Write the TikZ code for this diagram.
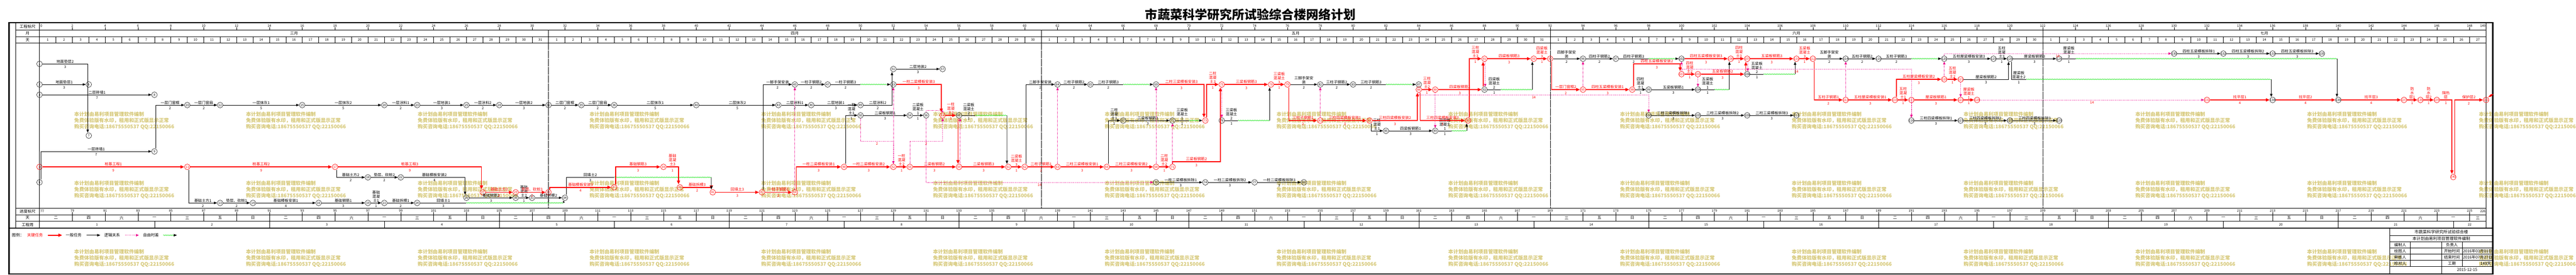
\documentclass[tikz,border=0pt]{standalone}
\usepackage{fontspec}
\setmainfont{Noto Sans CJK SC}
\usetikzlibrary{arrows.meta,decorations.pathmorphing}
\definecolor{wmc}{RGB}{214,200,120}
\definecolor{slackgreen}{RGB}{0,225,0}
\tikzset{
  ev/.style={circle,draw,black,line width=0.8pt,minimum size=16.5pt,inner sep=0pt,font=\fontsize{9}{9}\selectfont},
  evk/.style={ev,red,line width=1pt},
  task/.style={black,line width=0.9pt,-{Triangle[length=9pt,width=7pt]}},
  crit/.style={red,line width=2.6pt,-{Triangle[length=11pt,width=9pt]}},
  dummy/.style={magenta,line width=0.9pt,dash pattern=on 1.6pt off 2.4pt,-{Triangle[length=8pt,width=7pt]}},
  slack/.style={slackgreen,line width=0.8pt,decorate,decoration={snake,amplitude=1.2pt,segment length=5pt}},
  slacka/.style={slack,decoration={snake,amplitude=1.2pt,segment length=5pt,post length=9pt},-{Triangle[length=9pt,width=7pt,color=black]}},
  lbl/.style={above=1.5pt,inner sep=0pt,align=center,font=\fontsize{11}{12}\selectfont},
  dur/.style={below=5pt,inner sep=0pt,font=\fontsize{10}{10}\selectfont},
  lag/.style={below=3pt,inner sep=0pt,red,font=\fontsize{10}{10}\selectfont},
  hd/.style={inner sep=0pt,font=\fontsize{11.5}{12}\selectfont},
  num/.style={inner sep=0pt,font=\fontsize{9.5}{10}\selectfont},
  tb/.style={inner sep=0pt,font=\fontsize{11.5}{12}\selectfont},
  wm/.style={anchor=north west,inner sep=0pt,align=left,text=wmc,font=\fontsize{14.5}{18}\selectfont\bfseries}
}
\begin{document}
\begin{tikzpicture}[x=47.8pt,y=-1pt]
\useasboundingbox (-2.4059,0) rectangle (154.477,800);

% watermark
\foreach \k in {0,...,14}
  \foreach \y in {326,526,726}
    \node[wm] at ({2.113+10.4603*\k},\y) {本计划由易利项目管理软件编制\\免费体验版有水印，租用和正式版显示正常\\购买咨询电话:18675550537 QQ:22150066};

\node[font=\fontsize{36}{36}\selectfont\bfseries] (title) at (73.745,43) {市蔬菜科学研究所试验综合楼网络计划};

% frame and rows
\draw[line width=4pt] (-1.862,66) rectangle (149.414,798);
\draw[line width=3pt] (-1.862,665) -- (149.414,665);
\foreach \y in {87.8,107,125.5,606,625.5,644}
  \draw[line width=0.8pt] (-1.454,\y) -- (149,\y);
\foreach \x in {-1.454,0,149}
  \draw[line width=0.8pt] (\x,66) -- (\x,665);
\node[hd] at (-0.727,77) {工程标尺};
\node[hd] at (-0.727,97.4) {月};
\node[hd] at (-0.727,116.25) {天};
\node[hd] at (-0.727,615.75) {进度标尺};
\node[hd] at (-0.727,634.75) {天};
\node[hd] at (-0.727,654.5) {工程周};

% scales
\node[num,anchor=west] at (0.05,76) {0};
\node[num,anchor=west] at (0.05,615) {77};
\node[num,anchor=east] at (148.98,76) {149};
\node[num,anchor=east] at (148.98,615) {226};
\foreach \d in {2,4,...,148}{
  \pgfmathtruncatemacro{\p}{77+\d}
  \draw[line width=0.7pt] (\d,80) -- (\d,87.8);
  \draw[line width=0.7pt] (\d,618) -- (\d,625.5);
  \node[num] at (\d,76) {\d};
  \node[num] at (\d,614) {\p};
}
\foreach \d in {1,...,148}
  \draw[line width=0.7pt] (\d,107) -- (\d,125.5);
\foreach \s/\n in {0/31,31/30,61/31,92/30,122/27}
  \foreach \i in {1,...,\n}
    \node[num] at (\s+\i-0.5,116.25) {\i};
\foreach \d/\m in {15.5/三月,46/四月,76.5/五月,107/六月,135.5/七月}
  \node[hd] at (\d,97.4) {\m};
\foreach \d in {31,61,92,122}{
  \draw[line width=0.7pt] (\d,87.8) -- (\d,107);
  \draw[line width=0.6pt,densely dotted] (\d,125.5) -- (\d,606);
}
\foreach \d in {2,4,...,148}
  \draw[line width=0.7pt] (\d,625.5) -- (\d,644);
\foreach \w [count=\j from 0] in {二,四,六,一,三,五,日}
  \foreach \c in {0,...,10}{
    \pgfmathtruncatemacro{\k}{14*\c+2*\j}
    \ifnum\k<149
      \pgfmathsetmacro{\xc}{min(\k+1,148.5)}
      \node[hd] at (\xc,634.75) {\w};
    \fi
  }
\foreach \n in {1,...,21}{
  \draw[line width=0.7pt] (7*\n,644) -- (7*\n,665);
  \node[num] at (7*\n-3.5,654.5) {\n};
}
\node[num] at (148,654.5) {22};

% legend
\coordinate (la1) at (0.502,685);
\coordinate (la2) at (1.381,685);
\coordinate (la3) at (2.866,685);
\coordinate (la4) at (3.703,685);
\coordinate (la5) at (5.209,685);
\coordinate (la6) at (6.046,685);
\coordinate (la7) at (7.531,685);
\coordinate (la8) at (8.368,685);
\node[hd] at (-1.318,685) {图例：};
\node[hd,red] at (-0.272,685) {关键任务};
\draw[crit] (la1) -- (la2);
\node[hd] at (2.082,685) {一般任务};
\draw[task] (la3) -- (la4);
\node[hd] at (4.425,685) {逻辑关系};
\draw[dummy] (la5) -- (la6);
\node[hd] at (6.789,685) {自由时差};
\draw[slacka] (la7) -- (la8);

% title block
\draw[line width=0.8pt] (143.138,666.3) -- (143.138,798);
\foreach \y in {686.1,703.9,721.9,740,758.1,776.2}
  \draw[line width=0.8pt] (143.138,\y) -- (149.414,\y);
\draw[line width=0.8pt] (144.393,703.9) -- (144.393,776.2);
\draw[line width=0.8pt] (146.284,703.9) -- (146.284,798);
\draw[line width=0.8pt] (147.552,703.9) -- (147.552,776.2);
\node[tb,font=\fontsize{12}{12}\selectfont] at (146.276,676.2) {市蔬菜科学研究所试验综合楼};
\node[tb,font=\fontsize{12}{12}\selectfont] at (146.276,695) {本计划由易利项目管理软件编制};
\node[tb] at (143.766,713) {编制人};
\node[tb] at (146.918,713) {负责人};
\node[tb] at (143.766,731) {绘图人};
\node[tb] at (146.918,731) {开始时间};
\node[tb] at (148.483,731) {2016年03月01日};
\node[tb] at (143.766,749) {审核人};
\node[tb] at (146.918,749) {结束时间};
\node[tb] at (148.483,749) {2016年07月27日};
\node[tb] at (143.766,767) {校对人};
\node[tb] at (146.918,767) {工期};
\node[tb,anchor=east] at (149.3,767) {149天};
\node[tb] at (147.849,786) {2015-12-15};

% events
\node[ev] (n1) at (0,186) {1};
\node[ev] (n2) at (0,246) {2};
\node[ev] (n3) at (0,276) {3};
\node[evk] (n4) at (0,486) {4};
\node[ev] (n5) at (0,531) {5};
\node[ev] (n6) at (3,246) {6};
\node[ev] (n7) at (3,395) {7};
\node[ev] (n8) at (7,276) {8};
\node[ev] (n9) at (7,441) {9};
\node[ev] (n10) at (9,306) {10};
\node[evk] (n11) at (9,486) {11};
\node[ev] (n12) at (11,306) {12};
\node[ev] (n13) at (11,591) {13};
\node[ev] (n14) at (13,591) {14};
\node[ev] (n15) at (16,306) {15};
\node[ev] (n16) at (17,591) {16};
\node[evk] (n17) at (18,486) {17};
\node[ev] (n18) at (20,516.5) {18};
\node[ev] (n19) at (20,591) {19};
\node[ev] (n20) at (21,306) {20};
\node[ev] (n21) at (21,591) {21};
\node[ev] (n22) at (22,516.5) {22};
\node[ev] (n23) at (23,306) {23};
\node[ev] (n24) at (23,591) {24};
\node[ev] (n25) at (26,306) {25};
\node[ev] (n26) at (26,576) {26};
\node[evk] (n27) at (27,560) {27};
\node[ev] (n28) at (28,306) {28};
\node[evk] (n29) at (29,560) {29};
\node[ev] (n30) at (29,576) {30};
\node[ev] (n31) at (30,576) {31};
\node[ev] (n32) at (31,306) {32};
\node[evk] (n33) at (31,560) {33};
\node[ev] (n34) at (32,576) {34};
\node[ev] (n35) at (33,306) {35};
\node[ev] (n36) at (35,306) {36};
\node[evk] (n37) at (35,545.5) {37};
\node[evk] (n38) at (38,486) {38};
\node[evk] (n39) at (39,545.5) {39};
\node[ev] (n40) at (40,306) {40};
\node[evk] (n41) at (41,560) {41};
\node[evk] (n42) at (44,560) {42};
\node[ev] (n43) at (45,306) {43};
\node[evk] (n44) at (46,560) {44};
\node[ev] (n45) at (46,246) {45};
\node[ev] (n46) at (47,306) {46};
\node[ev] (n47) at (48,246) {47};
\node[evk] (n48) at (49,486) {48};
\node[ev] (n49) at (50,306) {49};
\node[ev] (n50) at (50,336) {50};
\node[ev] (n51) at (52,201) {51};
\node[evk] (n52) at (52,486) {52};
\node[ev] (n53) at (52,246) {53};
\node[ev] (n54) at (53,336) {54};
\node[evk] (n55) at (53,486) {55};
\node[ev] (n56) at (54,336) {56};
\node[ev] (n57) at (55,201) {57};
\node[evk] (n58) at (55,336) {58};
\node[evk] (n59) at (56,486) {59};
\node[ev] (n60) at (56,336) {60};
\node[evk] (n61) at (59,486) {61};
\node[evk] (n62) at (60,486) {62};
\node[evk] (n63) at (62,486) {63};
\node[ev] (n64) at (62,246) {64};
\node[ev] (n65) at (64,246) {65};
\node[evk] (n66) at (65,486) {66};
\node[ev] (n67) at (66,351) {67};
\node[evk] (n68) at (68,486) {68};
\node[ev] (n69) at (68,246) {69};
\node[ev] (n70) at (68,531) {70};
\node[evk] (n71) at (69,486) {71};
\node[ev] (n72) at (69,351) {72};
\node[evk] (n73) at (71,351) {73};
\node[ev] (n74) at (71,531) {74};
\node[evk] (n75) at (72,246) {75};
\node[ev] (n76) at (72,351) {76};
\node[ev] (n77) at (74,531) {77};
\node[evk] (n78) at (75,246) {78};
\node[evk] (n79) at (76,246) {79};
\node[ev] (n80) at (77,531) {80};
\node[evk] (n81) at (78,351) {81};
\node[ev] (n82) at (78,246) {82};
\node[ev] (n83) at (80,246) {83};
\node[evk] (n84) at (81,351) {84};
\node[ev] (n85) at (82,381) {85};
\node[ev] (n87) at (84,246) {87};
\node[evk] (n86) at (84,261) {86};
\node[evk] (n88) at (85,261) {88};
\node[ev] (n89) at (85,381) {89};
\node[evk] (n90) at (87,351) {90};
\node[evk] (n91) at (88,171) {91};
\node[ev] (n92) at (88,261) {92};
\node[evk] (n93) at (91,171) {93};
\node[evk] (n94) at (92,171) {94};
\node[evk] (n95) at (94,261) {95};
\node[ev] (n96) at (94,171) {96};
\node[ev] (n97) at (96,171) {97};
\node[evk] (n98) at (97,261) {98};
\node[ev] (n99) at (98,261) {99};
\node[ev] (n100) at (98,336) {100};
\node[evk] (n101) at (100,216) {101};
\node[ev] (n102) at (100,171) {102};
\node[evk] (n103) at (101,216) {103};
\node[ev] (n104) at (101,261) {104};
\node[ev] (n105) at (101,336) {105};
\node[evk] (n106) at (103,171) {106};
\node[evk] (n107) at (104,171) {107};
\node[ev] (n108) at (104,216) {108};
\node[ev] (n109) at (104,336) {109};
\node[evk] (n110) at (107,171) {110};
\node[ev] (n111) at (107,336) {111};
\node[evk] (n112) at (108,171) {112};
\node[evk] (n113) at (110,291) {113};
\node[ev] (n114) at (110,171) {114};
\node[ev] (n115) at (112,171) {115};
\node[evk] (n116) at (113,291) {116};
\node[evk] (n117) at (114,291) {117};
\node[ev] (n118) at (114,351) {118};
\node[evk] (n119) at (116,231) {119};
\node[ev] (n120) at (116,171) {120};
\node[evk] (n121) at (117,231) {121};
\node[evk] (n122) at (117,291) {122};
\node[ev] (n123) at (117,351) {123};
\node[evk] (n124) at (118,291) {124};
\node[ev] (n125) at (119,171) {125};
\node[ev] (n126) at (120,171) {126};
\node[ev] (n127) at (120,351) {127};
\node[ev] (n128) at (123,171) {128};
\node[ev] (n129) at (123,351) {129};
\node[ev] (n130) at (130,156) {130};
\node[evk] (n131) at (132,291) {131};
\node[ev] (n132) at (133,156) {132};
\node[ev] (n133) at (136,156) {133};
\node[ev] (n134) at (136,291) {134};
\node[ev] (n135) at (139,156) {135};
\node[ev] (n136) at (140,291) {136};
\node[evk] (n137) at (144,291) {137};
\node[evk] (n138) at (145,291) {138};
\node[evk] (n139) at (146,291) {139};
\node[evk] (n140) at (147,515.6) {140};
\node[evk] (n141) at (149,291) {141};
\fill[red] (149.126,283) -- (149.272,275) -- (149.46,274) -- (149.314,281) -- cycle;

% free-float points
\coordinate (k71) at (71.916,471);
\coordinate (k98) at (99.916,186);
\coordinate (f24) at (26,591);
\coordinate (g24) at (31.92,591);
\coordinate (f34) at (35,516.5);
\coordinate (g34) at (40.916,516.5);
\coordinate (f47) at (50,246);
\coordinate (f60) at (57,336);
\coordinate (g60) at (58.916,336);
\coordinate (f65) at (66,246);
\coordinate (f72) at (70,351);
\coordinate (f76) at (73,351);
\coordinate (g76) at (74.916,351);
\coordinate (f83) at (82,246);
\coordinate (f89) at (86,381);
\coordinate (g89) at (86.916,381);
\coordinate (f92) at (89,261);
\coordinate (g92) at (90.916,261);
\coordinate (f97) at (98,171);
\coordinate (f104) at (102,261);
\coordinate (g104) at (102.916,261);
\coordinate (f108) at (105,216);
\coordinate (g108) at (106.916,216);
\coordinate (f115) at (114,171);
\coordinate (f126) at (121,231);
\coordinate (g126) at (135.916,231);
\coordinate (f128) at (124,171);
\coordinate (g128) at (139.916,171);
\coordinate (c50) at (52,411.6);
\coordinate (c55) at (55,411.6);
\coordinate (c56) at (55,321);
\coordinate (c86) at (98,276);
\coordinate (c101) at (114,201);

% general tasks
\draw (n2) edge[task] node[lbl]{地面垫层1} node[dur]{3} (n6);
\draw (n3) edge[task] node[lbl]{二层砖墙1} node[dur]{7} (n8);
\draw[task] (n1) -| node[lbl,pos=.25]{地面垫层2} node[dur,pos=.25]{3} ([xshift=-3pt]n7.north);
\draw[task] ([xshift=4.5pt]n5.north) |- node[lbl,pos=.75]{一层砖墙1} node[dur,pos=.75]{7} (n9);
\draw[task] ([xshift=4pt]n9.north) |- node[lbl,pos=.75]{一层门窗框} node[dur,pos=.75]{2} (n10);
\draw (n10) edge[task] node[lbl]{一层门窗扇} node[dur]{2} (n12);
\draw (n12) edge[task] node[lbl]{一层抹灰1} node[dur]{5} (n15);
\draw (n15) edge[task] node[lbl]{一层抹灰2} node[dur]{5} (n20);
\draw (n20) edge[task] node[lbl]{一层涂料1} node[dur]{2} (n23);
\draw (n23) edge[task] node[lbl]{一层地装1} node[dur]{3} (n25);
\draw (n25) edge[task] node[lbl]{一层涂料2} node[dur]{2} (n28);
\draw (n28) edge[task] node[lbl]{一层地装2} node[dur]{3} (n32);
\draw (n32) edge[task] node[lbl]{二层门窗框} node[dur]{2} (n35);
\draw (n35) edge[task] node[lbl]{二层门窗扇} node[dur]{2} (n36);
\draw (n36) edge[task] node[lbl]{二层抹灰1} node[dur]{5} (n40);
\draw (n40) edge[task] node[lbl]{二层抹灰2} node[dur]{5} (n43);
\draw (n43) edge[task] node[lbl]{二层涂料1} node[dur]{2} (n46);
\draw (n46) edge[task] node[lbl]{二层地装1} node[dur]{3} (n49);
\draw[task] (n49) -| node[lbl,pos=.25]{二层涂料2} node[dur,pos=.25]{2} ([xshift=-4pt]n51.south);
\draw (n51) edge[task] node[lbl]{二层地装2} node[dur]{3} (n57);
\draw[task] ([xshift=4pt]n11.south) |- node[lbl,pos=.75]{基础土方1} node[dur,pos=.75]{2} (n13);
\draw (n13) edge[task] node[lbl]{垫层、砍桩1} node[dur]{2} (n14);
\draw (n14) edge[task] node[lbl]{基础模板安装1} node[dur]{4} (n16);
\draw (n16) edge[task] node[lbl]{基础钢筋1} node[dur]{3} (n19);
\draw (n19) edge[task] node[lbl]{基础\\混凝\\土1} node[dur]{1} (n21);
\draw (n21) edge[task] node[lbl]{基础拆模1} node[dur]{2} (n24);
\draw (n24) edge[task,-] node[lbl]{回填土1} node[dur]{3} (f24);
\draw[slack] (f24) -- (g24);
\draw[task,-{Triangle[length=5pt,width=6pt]}] (g24) -- (g24 |- n34.south);
\draw[task] ([xshift=4pt]n17.south) |- node[lbl,pos=.75]{基础土方2} node[dur,pos=.75]{2} (n18);
\draw (n18) edge[task] node[lbl]{垫层、砍桩2} node[dur]{2} (n22);
\draw[task] (n22) -| node[lbl,pos=.25]{基础模板安装2} node[dur,pos=.25]{4} ([xshift=-4pt]n26.north);
\draw (n26) edge[task] node[lbl]{基础钢筋2} node[dur]{3} (n30);
\draw (n30) edge[task] node[lbl]{基础\\混凝\\土2} node[dur]{1} (n31);
\draw (n31) edge[task] node[lbl]{基础拆模2} node[dur]{2} (n34);
\draw[task,-] ([xshift=4pt]n34.north) |- node[lbl,pos=.75]{回填土2} node[dur,pos=.75]{3} (f34);
\draw[slack] (f34) -- (g34);
\draw[task] ([xshift=4pt]n42.north) |- node[lbl,pos=.75]{一脚手架安装} node[dur,pos=.75]{2} (n45);
\draw (n45) edge[task] node[lbl]{一柱子钢筋2} node[dur]{2} (n47);
\draw (n47) edge[task,-] node[lbl]{一柱子钢筋3} node[dur]{2} (f47);
\draw[slacka] (f47) -- (n53);
\draw[task] ([xshift=4pt]n48.north) |- node[lbl,pos=.75]{一柱\\混凝\\土1} node[dur,pos=.75]{1} (n50);
\draw (n50) edge[task] node[lbl]{二梁板钢筋1} node[dur]{3} (n54);
\draw (n54) edge[task] node[lbl]{二梁板\\混凝土\\1} node[dur]{1} (n56);
\draw (n60) edge[task,-] node[lbl]{二梁板\\混凝土\\2} node[dur]{1} (f60);
\draw[slack] (f60) -- (g60);
\draw[task] (g60) -- ([xshift=-4pt]n61.north);
\draw[task] ([xshift=4pt]n62.north) |- node[lbl,pos=.75]{二脚手架安装} node[dur,pos=.75]{2} (n64);
\draw (n64) edge[task] node[lbl]{二柱子钢筋2} node[dur]{2} (n65);
\draw (n65) edge[task,-] node[lbl]{二柱子钢筋3} node[dur]{2} (f65);
\draw[slacka] (f65) -- (n69);
\draw[task] ([xshift=4pt]n66.north) |- node[lbl,pos=.75]{二柱\\混凝\\土1} node[dur,pos=.75]{1} (n67);
\draw (n67) edge[task] node[lbl]{三梁板钢筋1} node[dur]{3} (n72);
\draw (n72) edge[task,-] node[lbl]{三梁板\\混凝土\\1} node[dur]{1} (f72);
\draw[slacka] (f72) -- (n73);
\draw (n76) edge[task,-] node[lbl]{三梁板\\混凝土\\2} node[dur]{1} (f76);
\draw[slack] (f76) -- (g76);
\draw[task] (g76) -- (g76 |- n78.south);
\draw (n79) edge[task] node[lbl]{三脚手架安\\装} node[dur]{2} (n82);
\draw (n82) edge[task] node[lbl]{三柱子钢筋2} node[dur]{2} (n83);
\draw (n83) edge[task,-] node[lbl]{三柱子钢筋3} node[dur]{2} (f83);
\draw[slacka] (f83) -- (n87);
\draw[task] ([xshift=4pt]n84.south) |- node[lbl,pos=.75]{三柱\\混凝\\土1} node[dur,pos=.75]{1} (n85);
\draw (n85) edge[task] node[lbl]{四梁板钢筋1} node[dur]{3} (n89);
\draw (n89) edge[task,-] node[lbl]{四梁板\\混凝土\\1} node[dur]{1} (f89);
\draw[slack] (f89) -- (g89);
\draw[task] (g89) -- (g89 |- n90.south);
\draw (n92) edge[task,-] node[lbl]{四梁板\\混凝土\\2} node[dur]{1} (f92);
\draw[slack] (f92) -- (g92);
\draw[task] (g92) -- (g92 |- n93.south);
\draw (n94) edge[task] node[lbl]{四脚手架安\\装} node[dur]{2} (n96);
\draw (n96) edge[task] node[lbl]{四柱子钢筋2} node[dur]{2} (n97);
\draw (n97) edge[task,-] node[lbl]{四柱子钢筋3} node[dur]{2} (f97);
\draw[slacka] (f97) -- (n102);
\draw (n98) edge[task] node[lbl]{四柱\\混凝\\土1} node[dur]{1} (n99);
\draw (n99) edge[task] node[lbl]{五梁板钢筋1} node[dur]{3} (n104);
\draw (n104) edge[task,-] node[lbl]{五梁板\\混凝土\\1} node[dur]{1} (f104);
\draw[slack] (f104) -- (g104);
\draw[task] (g104) -- (g104 |- n106.south);
\draw (n108) edge[task,-] node[lbl]{五梁板\\混凝土\\2} node[dur]{1} (f108);
\draw[slack] (f108) -- (g108);
\draw[task] (g108) -- (g108 |- n110.south);
\draw (n112) edge[task] node[lbl]{五脚手架安\\装} node[dur]{2} (n114);
\draw (n114) edge[task] node[lbl]{五柱子钢筋2} node[dur]{2} (n115);
\draw (n115) edge[task,-] node[lbl]{五柱子钢筋3} node[dur]{2} (f115);
\draw[slacka] (f115) -- (n120);
\draw (n120) edge[task] node[lbl]{五柱屋梁模板安装3} node[dur]{3} (n125);
\draw (n125) edge[task] node[lbl]{五柱\\混凝\\土3} node[dur]{1} (n126);
\draw (n126) edge[task] node[lbl]{屋梁板钢筋3} node[dur]{3} (n128);
\draw[task] (n121) -| node[lbl,pos=.25]{屋梁板钢筋2} node[dur,pos=.25]{3} ([xshift=-4pt]n126.south);
\draw[task,-] ([xshift=4pt]n126.south) |- node[lbl,pos=.75]{屋梁板\\混凝土2} node[dur,pos=.75]{1} (f126);
\draw[slack] (f126) -- (g126);
\draw[task] (g126) -- (g126 |- n134.north);
\draw (n128) edge[task,-] node[lbl]{屋梁板\\混凝土\\3} node[dur]{1} (f128);
\draw[slack] (f128) -- (g128);
\draw[task] (g128) -- (g128 |- n136.north);
\draw (n70) edge[task] node[lbl]{一柱二梁模板拆除1} node[dur]{3} (n74);
\draw (n74) edge[task] node[lbl]{一柱二梁模板拆除2} node[dur]{3} (n77);
\draw (n77) edge[task] node[lbl]{一柱二梁模板拆除3} node[dur]{3} (n80);
\draw (n100) edge[task] node[lbl]{二柱三梁模板拆除1} node[dur]{3} (n105);
\draw (n105) edge[task] node[lbl]{二柱三梁模板拆除2} node[dur]{3} (n109);
\draw (n109) edge[task] node[lbl]{二柱三梁模板拆除3} node[dur]{3} (n111);
\draw (n118) edge[task] node[lbl]{三柱四梁模板拆除1} node[dur]{3} (n123);
\draw (n123) edge[task] node[lbl]{三柱四梁模板拆除2} node[dur]{3} (n127);
\draw (n127) edge[task] node[lbl]{三柱四梁模板拆除3} node[dur]{3} (n129);
\draw (n130) edge[task] node[lbl]{四柱五梁模板拆除1} node[dur]{3} (n132);
\draw (n132) edge[task] node[lbl]{四柱五梁模板拆除2} node[dur]{3} (n133);
\draw (n133) edge[task] node[lbl]{四柱五梁模板拆除3} node[dur]{3} (n135);

% critical tasks
\draw (n4) edge[crit] node[lbl]{桩基工程1} node[dur]{9} (n11);
\draw (n11) edge[crit] node[lbl]{桩基工程2} node[dur]{9} (n17);
\draw[crit] (n17) -| node[lbl,pos=.25]{桩基工程3} node[dur,pos=.25]{9} ([xshift=-4pt]n27.north);
\draw (n27) edge[crit] node[lbl]{基础土方3} node[dur]{2} (n29);
\draw (n29) edge[crit] node[lbl]{垫层、砍桩3} node[dur]{2} (n33);
\draw[crit] ([xshift=4pt]n33.north) |- node[lbl,pos=.75]{基础模板安装3} node[dur,pos=.75]{4} (n37);
\draw[crit] ([xshift=4pt]n37.north) |- node[lbl,pos=.75]{基础钢筋3} node[dur,pos=.75]{3} (n38);
\draw[crit] (n38) -| node[lbl,pos=.25]{基础\\混凝\\土3} node[dur,pos=.25]{1} ([xshift=-4pt]n39.north);
\draw[crit] (n39) -| node[lbl,pos=.25]{基础拆模3} node[dur,pos=.25]{2} ([xshift=-4pt]n41.north);
\draw[task] (g34) -- ([xshift=-4pt]n41.north);
\draw (n41) edge[crit] node[lbl]{回填土3} node[dur]{3} (n42);
\draw (n42) edge[crit] node[lbl]{一柱子钢筋1} node[dur]{2} (n44);
\draw[crit] ([xshift=4pt]n44.north) |- node[lbl,pos=.75]{一柱二梁模板安装1} node[dur,pos=.75]{3} (n48);
\draw (n48) edge[crit] node[lbl]{一柱二梁模板安装2} node[dur]{3} (n52);
\draw (n52) edge[crit] node[lbl]{一柱\\混凝\\土2} node[dur]{1} (n55);
\draw[crit] (n53) -| node[lbl,pos=.25]{一柱二梁模板安装3} node[dur,pos=.25]{3} ([xshift=-4pt]n58.north);
\draw (n55) edge[crit] node[lbl]{二梁板钢筋2} node[dur]{3} (n59);
\draw (n58) edge[crit] node[lbl]{一柱\\混凝\\土3} node[dur]{1} (n60);
\draw[crit] ([xshift=-3pt]n60.south) -- ([xshift=-3pt]n59.north);
\draw (n59) edge[crit] node[lbl]{二梁板钢筋3} node[dur]{3} (n61);
\draw (n61) edge[crit] node[lbl]{二梁板\\混凝土\\3} node[dur]{1} (n62);
\draw (n62) edge[crit] node[lbl]{二柱子钢筋1} node[dur]{2} (n63);
\draw (n63) edge[crit] node[lbl]{二柱三梁模板安装1} node[dur]{3} (n66);
\draw (n66) edge[crit] node[lbl]{二柱三梁模板安装2} node[dur]{3} (n68);
\draw (n68) edge[crit] node[lbl]{二柱\\混凝\\土2} node[dur]{1} (n71);
\draw[crit] (n69) -| node[lbl,pos=.25]{二柱三梁模板安装3} node[dur,pos=.25]{3} ([xshift=-4pt]n73.north);
\draw[crit] ([xshift=4pt]n73.north) |- node[lbl,pos=.75]{二柱\\混凝\\土3} node[dur,pos=.75]{1} (n75);
\draw[crit] (n71.north) |- node[lbl,pos=.75]{三梁板钢筋2} node[dur,pos=.75]{3} (k71) -- ([xshift=-4pt]n75.south);
\draw (n75) edge[crit] node[lbl]{三梁板钢筋3} node[dur]{3} (n78);
\draw (n78) edge[crit] node[lbl]{三梁板\\混凝土\\3} node[dur]{1} (n79);
\draw[crit] ([xshift=4pt]n79.south) |- node[lbl,pos=.75]{三柱子钢筋1} node[dur,pos=.75]{2} (n81);
\draw (n81) edge[crit] node[lbl]{三柱四梁模板安装1} node[dur]{3} (n84);
\draw[crit] (n84) -| node[lbl,pos=.25]{三柱四梁模板安装2} node[dur,pos=.25]{3} ([xshift=-4pt]n86.south);
\draw[crit] ([xshift=4pt]n86.south) |- node[lbl,pos=.75]{三柱四梁模板安装3} node[dur,pos=.75]{3} (n90);
\draw (n86) edge[crit] node[lbl]{三柱\\混凝\\土2} node[dur]{1} (n88);
\draw (n88) edge[crit] node[lbl]{四梁板钢筋2} node[dur]{3} (n92);
\draw[crit] ([xshift=4pt]n90.north) |- node[lbl,pos=.75]{三柱\\混凝\\土3} node[dur,pos=.75]{1} (n91);
\draw[crit] ([xshift=-4pt]n92.north) -- ([xshift=-4pt]n91.south);
\draw (n91) edge[crit] node[lbl]{四梁板钢筋3} node[dur]{3} (n93);
\draw (n93) edge[crit] node[lbl]{四梁板\\混凝土\\3} node[dur]{1} (n94);
\draw[crit] ([xshift=4pt]n94.south) |- node[lbl,pos=.75]{一层门窗框2} node[dur,pos=.75]{2} (n95);
\draw (n95) edge[crit] node[lbl]{四柱五梁模板安装1} node[dur]{3} (n98);
\draw[crit] ([xshift=4pt]n98.north) |- node[lbl,pos=.75]{四柱五梁模板安装2} node[dur,pos=.75]{3} (k98) -- ([xshift=-4pt]n101.north);
\draw (n101) edge[crit] node[lbl]{四柱\\混凝\\土2} node[dur]{1} (n103);
\draw (n102) edge[crit] node[lbl]{四柱五梁模板安装3} node[dur]{3} (n106);
\draw (n103) edge[crit] node[lbl]{五梁板钢筋2} node[dur]{3} (n108);
\draw (n106) edge[crit] node[lbl]{四柱\\混凝\\土3} node[dur]{1} (n107);
\draw[crit] ([xshift=-4pt]n108.north) -- ([xshift=-4pt]n107.south);
\draw (n107) edge[crit] node[lbl]{五梁板钢筋3} node[dur]{3} (n110);
\draw (n110) edge[crit] node[lbl]{五梁板\\混凝土\\3} node[dur]{1} (n112);
\draw[crit] ([xshift=4pt]n112.south) |- node[lbl,pos=.75]{五柱子钢筋1} node[dur,pos=.75]{2} (n113);
\draw (n113) edge[crit] node[lbl]{五柱屋梁模板安装1} node[dur]{3} (n116);
\draw[crit] ([xshift=4pt]n116.north) |- node[lbl,pos=.75]{五柱屋梁模板安装2} node[dur,pos=.75]{3} (n119);
\draw (n116) edge[crit] node[lbl]{五柱\\混凝\\土1} node[dur]{1} (n117);
\draw (n117) edge[crit] node[lbl]{屋梁板钢筋1} node[dur]{3} (n122);
\draw (n119) edge[crit] node[lbl]{五柱\\混凝\\土2} node[dur]{1} (n121);
\draw (n122) edge[crit] node[lbl]{屋梁板\\混凝土\\1} node[dur]{1} (n124);
\draw (n131) edge[crit] node[lbl]{找平层1} node[dur]{4} (n134);
\draw (n134) edge[crit] node[lbl]{找平层2} node[dur]{4} (n136);
\draw (n136) edge[crit] node[lbl]{找平层3} node[dur]{4} (n137);
\draw (n137) edge[crit] node[lbl]{防\\水\\层1} node[dur]{1} (n138);
\draw (n138) edge[crit] node[lbl]{防\\水\\层2} node[dur]{1} (n139);
\draw[crit] (n139) -| node[lbl,pos=.25]{隔热\\层} node[dur,pos=.25]{1} ([xshift=-4pt]n140.north);
\draw[crit] ([xshift=4pt]n140.north) |- node[lbl,pos=.75]{保护层2} node[dur,pos=.75]{2} (n141);

% logical links
\draw (n44) edge[dummy] (n45);
\draw[dummy] (n50) |- node[lag,pos=.75]{2} (c50) -- (n52);
\draw (n52) edge[dummy] (n53);
\draw[dummy] (n55) |- node[lag,pos=.75]{2} (c55) -- (n58);
\draw[dummy,-{Triangle[length=4pt,width=5pt]}] (n56) |- (c56) -- (n58);
\draw[dummy] (n56) |- node[lag,pos=.75]{14} (n70);
\draw[dummy] ([xshift=3pt]n59.north) -- ([xshift=3pt]n60.south);
\draw (n63) edge[dummy] (n64);
\draw (n68) edge[dummy] (n69);
\draw (n71) edge[dummy] (n72);
\draw (n75) edge[dummy] (n76);
\draw (n81) edge[dummy] (n82);
\draw[dummy] (n86) |- node[lag,pos=.75]{14} (c86) -- (n100);
\draw (n88) edge[dummy] (n89);
\draw[dummy] ([xshift=2pt]n91.south) -- ([xshift=2pt]n92.north);
\draw (n95) edge[dummy] (n96);
\draw (n101) edge[dummy] (n102);
\draw (n103) edge[dummy] (n104);
\draw[dummy] ([xshift=2pt]n107.south) -- ([xshift=2pt]n108.north);
\draw[dummy] (n101) |- node[lag,pos=.75]{14} (c101) -- (n118);
\draw (n113) edge[dummy] (n114);
\draw (n117) edge[dummy] (n118);
\draw (n119) edge[dummy] (n120);
\draw (n121) edge[dummy] (n122);
\draw[dummy] (n120) |- node[lag,pos=.75]{14} (n130);
\draw (n124) edge[dummy] node[lag]{14} (n131);

\end{tikzpicture}
\end{document}
